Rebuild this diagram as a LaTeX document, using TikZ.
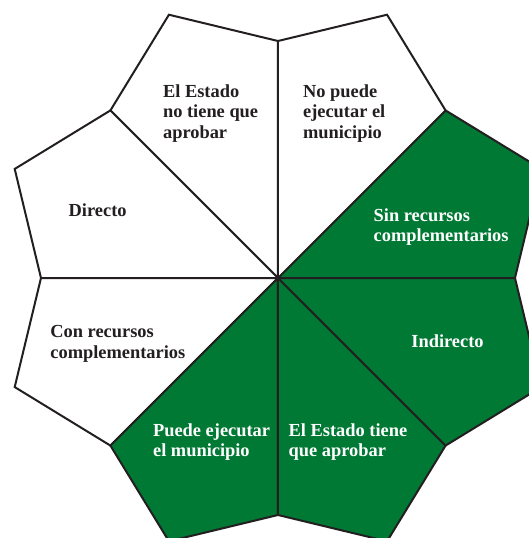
\documentclass[tikz,border=0pt]{standalone}
\usepackage{fontspec}
\setmainfont{Liberation Serif}
\usetikzlibrary{positioning}
\definecolor{verde}{RGB}{0,121,52}
\definecolor{tinta}{RGB}{35,31,32}

\begin{document}
\begin{tikzpicture}[x=0.5pt,y=0.5pt,
  sector/.style={draw=tinta, line width=1pt, line join=miter},
  etiqueta/.style={anchor=base west, align=left, inner sep=0pt,
    font=\fontsize{9.2}{10.3}\selectfont\bfseries},
  clara/.style={etiqueta, text=white},
  oscura/.style={etiqueta, text=tinta}]
\clip (-278,-260) rectangle (251,278);

% Sectores
\foreach \a/\c in {0/verde, 45/white, 90/white, 135/white, 180/white,
                   225/verde, 270/verde, 315/verde}{
  \draw[sector, fill=\c] (0,0) -- (\a:237) -- (\a+22.5:285) -- (\a+45:237) -- cycle;
}

% Lado blanco (base = ultima linea)
\node[oscura] (noPuede) at (24.7,139.7) {No puede\\ejecutar el\\municipio};
\node[oscura] (noAprueba) at (-115.3,139.7) {El Estado\\no tiene que\\aprobar};
\node[oscura] (directo) at (-209.7,62) {Directo};
\node[oscura] (conRec) at (-228,-80.3) {Con recursos\\complementarios};

% Lado verde
\node[clara] (sinRec) at (95.3,36.3) {Sin recursos\\complementarios};
\node[clara] (indirecto) at (133,-69.3) {Indirecto};
\node[clara] (aprueba) at (10.3,-178.7) {El Estado tiene\\que aprobar};
\node[clara] (puede) at (-125.3,-178.7) {Puede ejecutar\\el municipio};
\end{tikzpicture}
\end{document}
